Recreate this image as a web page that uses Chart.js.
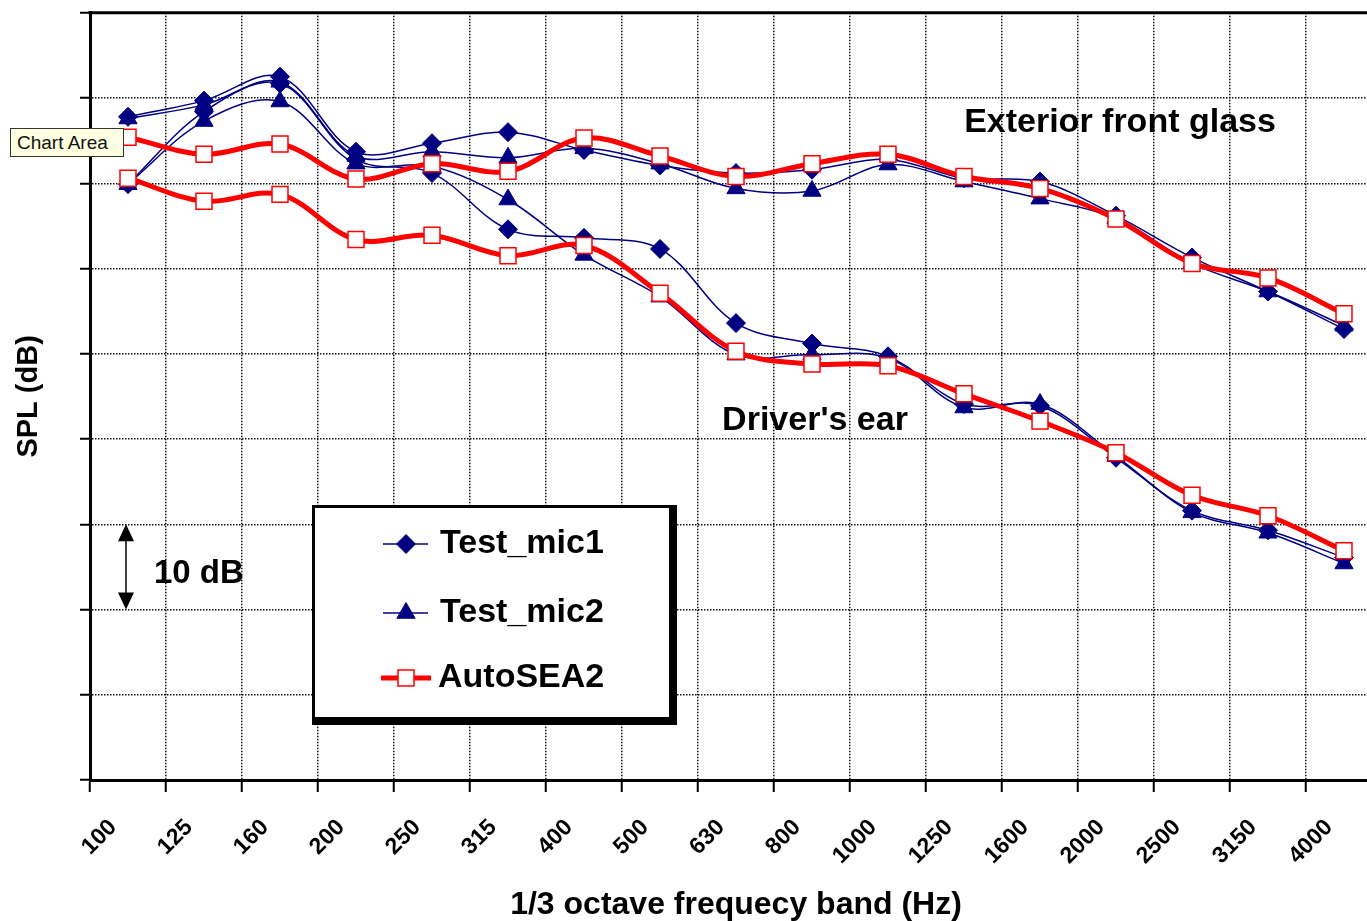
<!DOCTYPE html>
<html>
<head>
<meta charset="utf-8">
<script src="https://cdn.jsdelivr.net/npm/chart.js@4.4.1/dist/chart.umd.min.js"></script>
<style>
  html, body { margin: 0; padding: 0; background: #fff; overflow: hidden; }
  #wrap { position: relative; width: 1367px; height: 921px; overflow: hidden; }
  #spl { position: absolute; left: 0; top: 0; }
  #tip {
    position: absolute; left: 10px; top: 128px; width: 106px; height: 27px;
    background: #ffffe1; border: 1px solid #333;
    font: 19px "Liberation Sans", Arial, sans-serif; color: #111;
    line-height: 27px; padding-left: 6px; box-sizing: content-box;
  }
</style>
</head>
<body>
<div id="wrap">
  <canvas id="spl" width="1400" height="921"></canvas>
  <div id="tip">Chart Area</div>
</div>
<script>
// 1/3 octave band centre frequencies (Hz)
const bands = ["100", "125", "160", "200", "250", "315", "400", "500", "630",
  "800", "1000", "1250", "1600", "2000", "2500", "3150", "4000"];

// SPL, relative dB (one grid step = 10 dB)
const extMic1 = [77.8, 79.7, 82.5, 73.7, 74.7, 76.0, 73.9, 72.1, 71.2, 71.6, 72.8, 70.6, 70.2, 66.2, 61.3, 57.3, 52.9];
const extMic2 = [77.6, 79.2, 81.9, 73.2, 73.7, 73.0, 74.1, 72.3, 69.4, 69.1, 72.2, 70.2, 68.2, 65.9, 60.6, 57.3, 53.3];
const extSea = [75.4, 73.4, 74.6, 70.5, 72.3, 71.4, 75.3, 73.2, 70.8, 72.3, 73.4, 70.8, 69.4, 65.8, 60.6, 58.9, 54.7];
const earMic1 = [69.9, 78.4, 81.7, 72.8, 71.2, 64.6, 63.6, 62.3, 53.6, 51.2, 49.7, 44.1, 43.9, 37.8, 31.6, 29.3, 26.1];
const earMic2 = [69.9, 77.3, 79.6, 72.3, 72.0, 68.1, 61.6, 56.7, 49.9, 49.9, 49.5, 43.7, 44.1, 38.0, 31.4, 29.0, 25.4];
const earSea = [70.6, 67.9, 68.7, 63.4, 63.9, 61.5, 62.7, 57.1, 50.3, 48.8, 48.6, 45.3, 42.1, 38.4, 33.4, 31.0, 26.9];

const FONT = '"Liberation Sans", Arial, sans-serif';
const NAVY = "#000080";
const RED = "#ff0000";

const styles = {
  Test_mic1: { color: NAVY, fill: NAVY, width: 1.5, shape: "rectRot", radius: 9.5, order: 2 },
  Test_mic2: { color: NAVY, fill: NAVY, width: 1.5, shape: "triangle", radius: 10.5, order: 1 },
  AutoSEA2: { color: RED, fill: "#ffffff", width: 5, shape: "rect", radius: 11.3, order: 0 },
};

function series(name, values) {
  const s = styles[name];
  return {
    label: name,
    data: values,
    borderColor: s.color,
    borderWidth: s.width,
    backgroundColor: s.fill,
    pointStyle: s.shape,
    pointRadius: s.radius,
    pointBackgroundColor: s.fill,
    pointBorderColor: s.color,
    pointBorderWidth: name === "AutoSEA2" ? 1.5 : 1,
    tension: 0.35,
    fill: false,
    order: s.order,
  };
}

function marker(ctx, shape, x, y, r, fill, stroke, lw) {
  ctx.save();
  ctx.beginPath();
  if (shape === "rectRot") {
    ctx.moveTo(x - r, y); ctx.lineTo(x, y - r); ctx.lineTo(x + r, y); ctx.lineTo(x, y + r);
  } else if (shape === "triangle") {
    ctx.moveTo(x, y - r);
    ctx.lineTo(x + r * Math.sin(2 * Math.PI / 3), y - r * Math.cos(2 * Math.PI / 3));
    ctx.lineTo(x + r * Math.sin(4 * Math.PI / 3), y - r * Math.cos(4 * Math.PI / 3));
  } else {
    const h = Math.SQRT1_2 * r;
    ctx.rect(x - h, y - h, 2 * h, 2 * h);
  }
  ctx.closePath();
  ctx.fillStyle = fill;
  ctx.fill();
  ctx.lineWidth = lw;
  ctx.strokeStyle = stroke;
  ctx.stroke();
  ctx.restore();
}

// frame, legend box and the text notes drawn over the plot
const overlay = {
  id: "overlay",
  afterDraw(chart) {
    const { ctx, chartArea: a, scales: { x, y } } = chart;
    ctx.save();

    // top edge of the plot area
    ctx.strokeStyle = "#000";
    ctx.lineWidth = 3;
    ctx.beginPath();
    ctx.moveTo(a.left - 1.5, a.top);
    ctx.lineTo(a.right, a.top);
    ctx.lineTo(a.right, a.bottom);
    ctx.stroke();

    // series notes
    ctx.fillStyle = "#000";
    ctx.font = "bold 34px " + FONT;
    ctx.textAlign = "center";
    ctx.textBaseline = "middle";
    ctx.fillText("Exterior front glass", x.getPixelForValue(13) + 4, y.getPixelForValue(77.1));
    ctx.fillText("Driver's ear", x.getPixelForValue(9) + 3, y.getPixelForValue(42.1));

    // 10 dB scale arrow
    const ax = x.getPixelForValue(0) - 2;
    const y30 = y.getPixelForValue(30), y20 = y.getPixelForValue(20);
    ctx.lineWidth = 1.5;
    ctx.beginPath();
    ctx.moveTo(ax, y30 + 10);
    ctx.lineTo(ax, y20 - 10);
    ctx.stroke();
    ctx.beginPath();
    ctx.moveTo(ax, y30); ctx.lineTo(ax - 8, y30 + 17); ctx.lineTo(ax + 8, y30 + 17); ctx.closePath();
    ctx.moveTo(ax, y20); ctx.lineTo(ax - 8, y20 - 17); ctx.lineTo(ax + 8, y20 - 17); ctx.closePath();
    ctx.fill();
    ctx.font = "bold 33px " + FONT;
    ctx.textAlign = "left";
    ctx.fillText("10 dB", ax + 28, y.getPixelForValue(24.2));

    // legend box with drop shadow
    const L = 312, T = 505, W = 365, H = 220;
    ctx.fillStyle = "#000";
    ctx.fillRect(L, T, W, H);
    ctx.fillStyle = "#fff";
    ctx.fillRect(L + 3, T + 3, W - 11, H - 11);

    const rows = ["Test_mic1", "Test_mic2", "AutoSEA2"];
    const rowY = [544, 613, 678];
    rows.forEach((name, i) => {
      const s = styles[name];
      const yy = rowY[i];
      const x0 = name === "AutoSEA2" ? 381 : 383;
      const x1 = name === "AutoSEA2" ? 431 : 428;
      ctx.strokeStyle = s.color;
      ctx.lineWidth = s.width;
      ctx.beginPath();
      ctx.moveTo(x0, yy);
      ctx.lineTo(x1, yy);
      ctx.stroke();
      marker(ctx, s.shape, 406, yy, s.radius, s.fill, s.color, name === "AutoSEA2" ? 1.5 : 1);
      ctx.fillStyle = "#000";
      ctx.font = "bold 34px " + FONT;
      ctx.textAlign = "left";
      ctx.textBaseline = "middle";
      ctx.fillText(name, name === "AutoSEA2" ? 438 : 440, yy);
    });

    ctx.restore();
  },
};

new Chart(document.getElementById("spl"), {
  type: "line",
  data: {
    labels: bands,
    datasets: [
      series("AutoSEA2", extSea),
      series("AutoSEA2", earSea),
      series("Test_mic2", extMic2),
      series("Test_mic2", earMic2),
      series("Test_mic1", extMic1),
      series("Test_mic1", earMic1),
    ],
  },
  options: {
    responsive: false,
    animation: false,
    devicePixelRatio: 1,
    layout: { padding: { top: 11, right: 18, left: 0, bottom: 0 } },
    plugins: {
      legend: { display: false },
      tooltip: { enabled: false },
    },
    scales: {
      x: {
        offset: true,
        grid: {
          offset: true,
          color: "#111",
          lineWidth: 1.5,
          tickLength: 12,
          tickColor: "#000",
          tickWidth: 2,
        },
        border: { color: "#000", width: 3, dash: [1.5, 1.5] },
        ticks: {
          autoSkip: false,
          minRotation: 45,
          maxRotation: 45,
          labelOffset: -15,
          padding: 22,
          color: "#000",
          font: { family: FONT, size: 23, weight: "bold" },
        },
        title: {
          display: true,
          text: "1/3 octave frequecy band (Hz)",
          color: "#000",
          font: { family: FONT, size: 32, weight: "bold" },
          padding: { top: 0, bottom: -3 },
        },
        afterFit: (s) => {
          s.height = 141;
          s.paddingLeft = 0;
          s.paddingRight = 0;
        },
      },
      y: {
        min: 0,
        max: 90,
        ticks: { stepSize: 10, display: false },
        grid: {
          color: "#111",
          lineWidth: 1.5,
          tickLength: 10,
          tickColor: "#000",
          tickWidth: 2,
        },
        border: { color: "#000", width: 3, dash: [1.5, 1.5] },
        title: {
          display: true,
          text: "SPL (dB)",
          color: "#000",
          font: { family: FONT, size: 29, weight: "bold" },
          padding: { top: 12, bottom: 0 },
        },
        afterFit: (s) => {
          s.width = 90;
        },
      },
    },
  },
  plugins: [overlay],
});
</script>
</body>
</html>
